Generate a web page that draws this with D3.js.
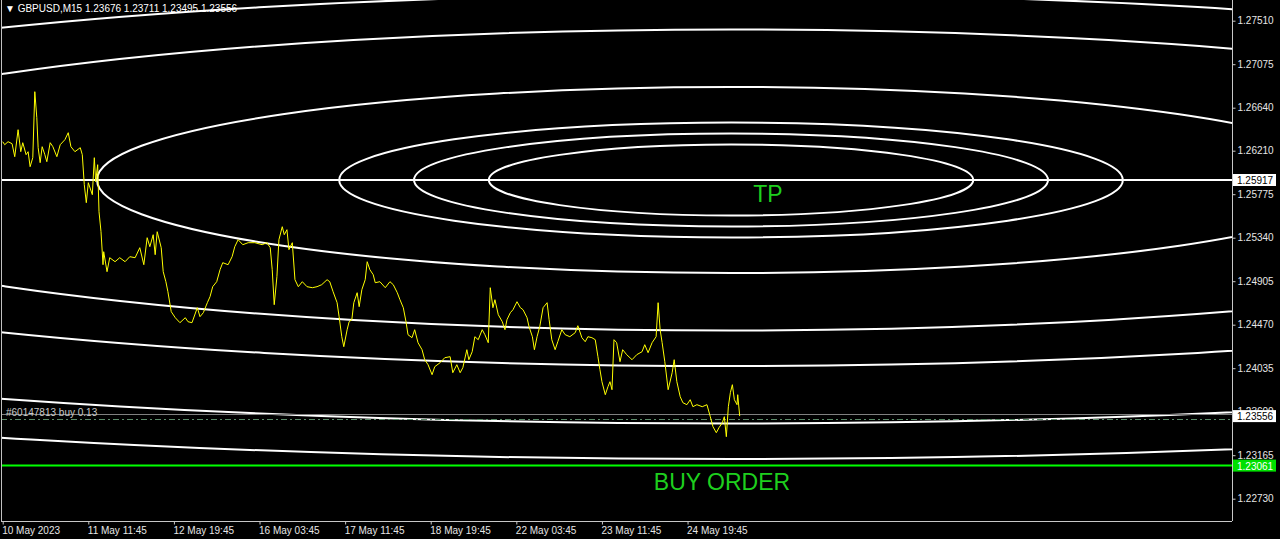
<!DOCTYPE html>
<html>
<head>
<meta charset="utf-8">
<script src="https://cdn.jsdelivr.net/npm/d3@7"></script>
<style>
  body { margin: 0; background: #000; }
  text { font-family: "Liberation Sans", Arial, sans-serif; }
</style>
</head>
<body>
<div id="chart"></div>
<script>
// chart data
var symbolTitle = "GBPUSD,M15";
var ohlc = [1.23676, 1.23711, 1.23495, 1.23556];

// bar index (M15 bars from the first visible one) and close price
var bars = [0,3,8,14,18,23,27,30,35,38,41,45,48,51,53,56,59,63,66,71,75,81,86,93,98,102,108,116,119,122,125,128,134,137,139,142,144,147,150,151,156,160,168,175,183,190,198,205,211,216,220,225,228,231,237,240,244,247,252,258,265,273,277,
  283,291,295,300,306,310,314,320,325,329,337,343,347,352,359,367,377,388,395,400,403,406,410,413,418,421,425,428,433,437,442,448,455,463,470,477,485,489,494,500,503,507,510,515,518,522,525,530,533,537,542,545,549,554,
  557,564,572,579,584,590,594,599,603,606,612,616,621,627,631,636,642,646,654,661,669,673,679,684,688,694,697,702,706,711,717,721,726,729,733,736,741,747,751,754,759,763,769,774,778,784,787,792,795,799,803,808,814,817,821,826,
  830,836,841,848,856,860,866,871,875,881,886,890,893,896,901,905,908,911,914,918,923,927,933,941,948,956,960,965,971,977,980,983,986,990,995,1001,1004,1008,1013,1017,1023,1028,1032,1038,1046,1053,1058,1062,1067,1071,1076,1079,1082,1085,1088,1091,1094,1098,1099,1102];
var closes = [1.2630,1.2627,1.2630,1.2628,1.2615,1.2642,1.2620,1.2629,1.2617,1.2620,1.2605,1.2614,1.2680,1.2654,1.2624,1.2609,1.2625,1.2617,1.2610,1.2629,1.2625,1.2615,1.2627,1.2632,1.2639,1.2625,1.2620,1.2624,1.2617,1.2587,1.2569,1.2589,1.2577,1.2614,1.2590,1.2607,1.2560,1.2540,1.2507,1.2520,1.2500,1.2514,1.2510,1.2514,1.2510,1.2515,1.2514,1.2524,1.2507,1.2534,1.2525,1.2537,1.2517,1.2540,1.2524,1.2500,1.2490,1.2480,1.2460,1.2454,1.2449,1.2454,1.2450,
  1.2449,1.2464,1.2455,1.2459,1.2469,1.2475,1.2485,1.2490,1.2502,1.2509,1.2507,1.2515,1.2525,1.2532,1.2527,1.2529,1.2529,1.2527,1.2529,1.2524,1.2502,1.2467,1.2495,1.2532,1.2545,1.2537,1.2542,1.2522,1.2529,1.2492,1.2485,1.2490,1.2485,1.2484,1.2485,1.2487,1.2492,1.2490,1.2480,1.2469,1.2455,1.2435,1.2425,1.2442,1.2450,1.2452,1.2469,1.2479,1.2465,1.2482,1.2492,1.2510,1.2502,1.2497,
  1.2489,1.2490,1.2484,1.2490,1.2487,1.2479,1.2472,1.2464,1.2450,1.2437,1.2434,1.2442,1.2429,1.2422,1.2412,1.2407,1.2397,1.2405,1.2409,1.2414,1.2415,1.2399,1.2407,1.2399,1.2404,1.2422,1.2412,1.2420,1.2435,1.2432,1.2442,1.2437,1.2429,1.2484,1.2464,1.2472,1.2457,1.2450,1.2442,1.2452,1.2459,1.2462,1.2470,1.2464,1.2462,1.2454,1.2445,1.2435,1.2422,1.2435,1.2445,1.2464,1.2469,1.2452,1.2432,1.2422,
  1.2430,1.2442,1.2437,1.2435,1.2439,1.2446,1.2434,1.2430,1.2435,1.2434,1.2432,1.2415,1.2402,1.2390,1.2377,1.2385,1.2390,1.2382,1.2432,1.2429,1.2410,1.2422,1.2417,1.2412,1.2417,1.2420,1.2427,1.2419,1.2429,1.2435,1.2469,1.2442,1.2429,1.2410,1.2382,1.2399,1.2412,1.2390,1.2375,1.2369,1.2367,1.2372,1.2365,1.2367,1.2365,1.2367,1.2355,1.2345,1.2339,1.2344,1.2349,1.2355,1.2335,1.2365,1.2379,1.2387,1.2372,1.2367,1.2377,1.23556];

// price axis ticks
var priceTicks = [1.27510, 1.27075, 1.26640, 1.26210, 1.25775, 1.25340, 1.24905, 1.24470, 1.24035, 1.23600, 1.23165, 1.22730];

// time axis ticks (bar index) and their labels
var timeTickBars = [0, 128, 256, 384, 512, 640, 768, 896, 1024];
var timeTickLabels = ["10 May 2023", "11 May 11:45", "12 May 19:45", "16 May 03:45", "17 May 11:45",
  "18 May 19:45", "22 May 03:45", "23 May 11:45", "24 May 19:45"];

// fibonacci ellipses
var fiboLevels = [0.382, 0.5, 0.618, 1, 1.618, 2, 2.618, 3];
var fiboCenterBar = 1089;
var fiboCenterPrice = 1.25917;
var fiboRadiusBars = 948;
var fiboRadiusPrice = 0.0093;

// horizontal levels
var tpPrice = 1.25917;
var buyOrderPrice = 1.23061;
var bidPrice = 1.23556;
var openOrderPrice = 1.23527;
var orderLabel = "#60147813 buy 0.13";

// Set the dimensions
var svgWidth = 1280;
var svgHeight = 539;
var plotLeft = 1, plotRight = 1232, plotTop = 0, plotBottom = 521;

var svg = d3.select("#chart")
    .append("svg")
    .attr("width", svgWidth)
    .attr("height", svgHeight)
    .style("display", "block")
    .style("background", "#000");

// scales
var xScale = d3.scaleLinear()
    .domain([0, 1840])
    .range([2.7, 2.7 + 1840 * 0.6688]);

var yScale = d3.scaleLinear()
    .domain([1.27717, 1.22507])
    .range([plotTop, plotBottom]);

svg.append("defs").append("clipPath")
    .attr("id", "plotClip")
  .append("rect")
    .attr("x", plotLeft)
    .attr("y", plotTop)
    .attr("width", plotRight - plotLeft)
    .attr("height", plotBottom - plotTop);

var plot = svg.append("g").attr("clip-path", "url(#plotClip)");

// ellipses
var cx = xScale(fiboCenterBar);
var cy = yScale(fiboCenterPrice);
plot.selectAll("ellipse.fibo")
    .data(fiboLevels)
    .enter()
    .append("ellipse")
    .attr("class", "fibo")
    .attr("cx", cx)
    .attr("cy", cy)
    .attr("rx", d => xScale(fiboCenterBar + d * fiboRadiusBars) - cx)
    .attr("ry", d => yScale(fiboCenterPrice - d * fiboRadiusPrice) - cy)
    .attr("fill", "none")
    .attr("stroke", "#fff")
    .attr("stroke-width", 2);

// TP line
plot.append("line")
    .attr("x1", plotLeft).attr("x2", plotRight)
    .attr("y1", yScale(tpPrice)).attr("y2", yScale(tpPrice))
    .attr("stroke", "#fff")
    .attr("stroke-width", 2);

// bid line and order line
plot.append("line")
    .attr("x1", plotLeft).attr("x2", plotRight)
    .attr("y1", Math.round(yScale(bidPrice)) - 1.5).attr("y2", Math.round(yScale(bidPrice)) - 1.5)
    .attr("stroke", "#808080")
    .attr("stroke-width", 1);

plot.append("line")
    .attr("x1", plotLeft).attr("x2", plotRight)
    .attr("y1", Math.round(yScale(openOrderPrice)) + 0.5).attr("y2", Math.round(yScale(openOrderPrice)) + 0.5)
    .attr("stroke", "#5c8c6a")
    .attr("stroke-width", 1)
    .attr("stroke-dasharray", "6,3,2,3");

plot.append("text")
    .attr("x", 6)
    .attr("y", yScale(openOrderPrice) - 3)
    .attr("fill", "#c8c8c8")
    .attr("font-size", "10px")
    .text(orderLabel);

// buy order line
plot.append("line")
    .attr("x1", plotLeft).attr("x2", plotRight)
    .attr("y1", yScale(buyOrderPrice)).attr("y2", yScale(buyOrderPrice))
    .attr("stroke", "#00ff00")
    .attr("stroke-width", 2);

// price line
var line = d3.line()
    .x((d, i) => xScale(bars[i]))
    .y(d => yScale(d));

plot.append("path")
    .datum(closes)
    .attr("d", line)
    .attr("fill", "none")
    .attr("stroke", "#ffff00")
    .attr("stroke-width", 1);

// text labels on the chart
plot.append("text")
    .attr("x", 768)
    .attr("y", yScale(tpPrice) + 22)
    .attr("text-anchor", "middle")
    .attr("fill", "#1ecf1e")
    .attr("font-size", "23px")
    .text("TP");

plot.append("text")
    .attr("x", 722)
    .attr("y", yScale(buyOrderPrice) + 24)
    .attr("text-anchor", "middle")
    .attr("fill", "#1ecf1e")
    .attr("font-size", "23px")
    .text("BUY ORDER");

// frame
svg.append("line")
    .attr("x1", plotLeft + 0.5).attr("x2", plotLeft + 0.5)
    .attr("y1", plotTop).attr("y2", plotBottom)
    .attr("stroke", "#c0c0c0");

// price axis
var rightAxis = d3.axisRight(yScale)
    .tickValues(priceTicks)
    .tickFormat(d3.format(".5f"))
    .tickSize(3)
    .tickPadding(2);

var gy = svg.append("g")
    .attr("transform", `translate(${plotRight + 0.5}, 0)`)
    .call(rightAxis);
gy.select(".domain").attr("stroke", "#c8c8c8").attr("d", `M0,${plotTop}V${plotBottom}`);
gy.selectAll(".tick line").attr("stroke", "#c8c8c8");
gy.selectAll(".tick text")
    .attr("fill", "#e6e6e6")
    .attr("font-size", "10px")
    .attr("font-family", "Liberation Sans, Arial, sans-serif");

// time axis
var bottomAxis = d3.axisBottom(xScale)
    .tickValues(timeTickBars)
    .tickFormat((d, i) => timeTickLabels[i])
    .tickSize(3)
    .tickPadding(2);

var gx = svg.append("g")
    .attr("transform", `translate(0, ${plotBottom + 0.5})`)
    .call(bottomAxis);
gx.select(".domain").attr("stroke", "#c8c8c8").attr("d", `M${plotLeft},0H${plotRight}`);
gx.selectAll(".tick line").attr("stroke", "#c8c8c8");
gx.selectAll(".tick text")
    .attr("fill", "#e6e6e6")
    .attr("font-size", "10px")
    .attr("font-family", "Liberation Sans, Arial, sans-serif")
    .attr("text-anchor", "start")
    .attr("dx", "-1");

// price tags
var tags = [
  {price: tpPrice, bg: "#ffffff", fg: "#000000"},
  {price: bidPrice, bg: "#ffffff", fg: "#000000"},
  {price: buyOrderPrice, bg: "#00e000", fg: "#ffffff"}
];

var tagGroup = svg.selectAll("g.tag")
    .data(tags)
    .enter()
    .append("g")
    .attr("class", "tag")
    .attr("transform", d => `translate(${plotRight + 1}, ${yScale(d.price)})`);

tagGroup.append("rect")
    .attr("x", 0)
    .attr("y", -6)
    .attr("width", 43)
    .attr("height", 12)
    .attr("fill", d => d.bg);

tagGroup.append("text")
    .attr("x", 4)
    .attr("y", 4)
    .attr("fill", d => d.fg)
    .attr("font-size", "10px")
    .text(d => d.price.toFixed(5));

// header
svg.append("text")
    .attr("x", 5)
    .attr("y", 12)
    .attr("fill", "#ffffff")
    .attr("font-size", "10px")
    .text("\u25BC " + symbolTitle + "  " + ohlc.map(d => d.toFixed(5)).join(" "));
</script>
</body>
</html>
